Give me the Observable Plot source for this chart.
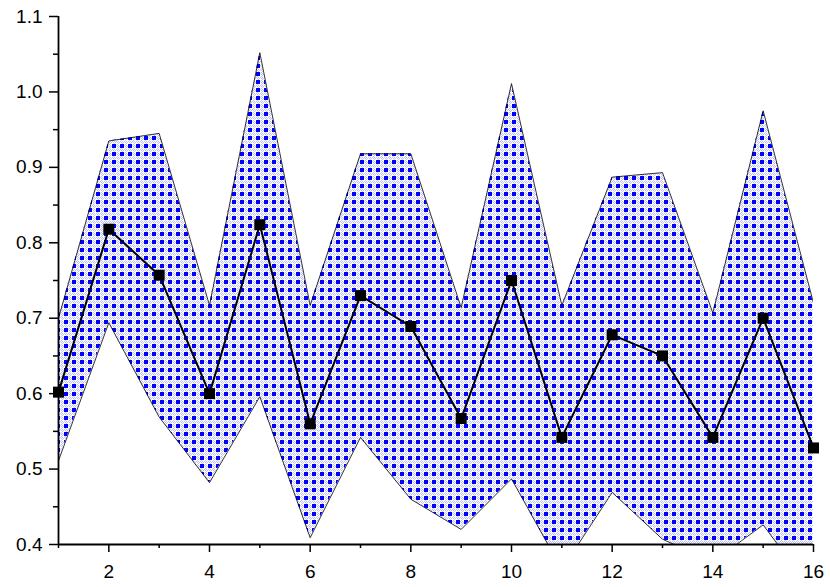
<!DOCTYPE html>
<html>
<head>
<meta charset="utf-8">
<script src="https://cdn.jsdelivr.net/npm/d3@7"></script>
<script src="https://cdn.jsdelivr.net/npm/@observablehq/plot@0.6"></script>
<style>
  html, body { margin: 0; padding: 0; background: #fff; }
  svg { font-family: "Liberation Sans", Arial, sans-serif; }
</style>
</head>
<body>
<div id="chart"></div>
<script>
const xs = [1, 2, 3, 4, 5, 6, 7, 8, 9, 10, 11, 12, 13, 14, 15, 16];
const mean = [0.602, 0.818, 0.757, 0.600, 0.824, 0.560, 0.730, 0.689, 0.567, 0.750, 0.542, 0.678, 0.650, 0.542, 0.700, 0.528];
const upper = [0.700, 0.935, 0.945, 0.717, 1.052, 0.717, 0.918, 0.918, 0.714, 1.011, 0.717, 0.887, 0.893, 0.707, 0.975, 0.720];
const lower = [0.511, 0.694, 0.569, 0.482, 0.596, 0.409, 0.542, 0.460, 0.420, 0.487, 0.367, 0.469, 0.407, 0.377, 0.426, 0.336];
const yMajor = [0.4, 0.5, 0.6, 0.7, 0.8, 0.9, 1.0, 1.1];
const yMinor = [0.45, 0.55, 0.65, 0.75, 0.85, 0.95, 1.05];
const xMajor = [2, 4, 6, 8, 10, 12, 14, 16];
const xMinor = [1, 3, 5, 7, 9, 11, 13, 15];

const data = xs.map((x, i) => ({x, y: mean[i], hi: upper[i], lo: lower[i]}));

const chart = Plot.plot({
  width: 830,
  height: 587,
  marginLeft: 58,
  marginRight: 17,
  marginTop: 16,
  marginBottom: 43,
  style: {fontSize: "19px", fontFamily: "Liberation Sans, Arial, sans-serif", color: "#000"},
  x: {domain: [1, 16], label: null},
  y: {domain: [0.4, 1.1], label: null},
  marks: [
    Plot.areaY(data, {x: "x", y1: "lo", y2: "hi", fill: "url(#chk)", clip: true}),
    Plot.line(data, {x: "x", y: "hi", stroke: "#000", strokeWidth: 0.8, clip: true}),
    Plot.line(data, {x: "x", y: "lo", stroke: "#000", strokeWidth: 0.8, clip: true}),
    Plot.line(data, {x: "x", y: "y", stroke: "#000", strokeWidth: 2}),
    Plot.dot(data, {x: "x", y: "y", symbol: "square", r: 6.2, fill: "#000", stroke: "none"}),
    Plot.axisY({ticks: yMinor, tickSize: 5, text: null, label: null, strokeWidth: 1.5}),
    Plot.axisY({ticks: yMajor, tickSize: 9, tickPadding: 7, tickFormat: d3.format(".1f"), label: null, strokeWidth: 1.5, fontSize: 19}),
    Plot.axisX({ticks: xMinor, tickSize: 4, text: null, label: null, strokeWidth: 1.5}),
    Plot.axisX({ticks: xMajor, tickSize: 8, tickPadding: 12, label: null, strokeWidth: 1.5, fontSize: 19}),
    Plot.ruleX([1], {stroke: "#000", strokeWidth: 1.8}),
    Plot.ruleY([0.4], {stroke: "#000", strokeWidth: 1.8})
  ]
});

const svg = d3.select(chart);
const defs = svg.insert("defs", ":first-child");
const pat = defs.append("pattern")
  .attr("id", "chk")
  .attr("patternUnits", "userSpaceOnUse")
  .attr("width", 8).attr("height", 8);
// align pattern to pixel grid if the area is offset by half a pixel
let tx = 0, ty = 0;
svg.selectAll("path").each(function() {
  const f = this.getAttribute("fill") || (this.parentNode && this.parentNode.getAttribute("fill"));
  if (f === "url(#chk)") {
    let n = this;
    while (n && n !== chart) {
      const t = n.getAttribute && n.getAttribute("transform");
      if (t) {
        const m = /translate\(\s*([-\d.]+)[ ,]+([-\d.]+)/.exec(t);
        if (m) { tx += +m[1]; ty += +m[2]; }
      }
      n = n.parentNode;
    }
  }
});
tx = tx - Math.floor(tx); ty = ty - Math.floor(ty);
if (tx || ty) pat.attr("patternTransform", `translate(${-tx},${-ty})`);

pat.append("rect").attr("width", 8).attr("height", 8).attr("fill", "#ffffff");
const light = "#c0c0fa";
// light "#"-like dots in the three non-blue 4x4 cells
for (const [cx, cy] of [[4, 0], [0, 4], [4, 4]]) {
  for (const [px, py] of [[1, 0], [0, 1], [2, 1], [1, 2], [3, 2], [2, 3]]) {
    pat.append("rect").attr("x", cx + px).attr("y", cy + py).attr("width", 1).attr("height", 1).attr("fill", light);
  }
}
pat.append("rect").attr("x", 0).attr("y", 0).attr("width", 4).attr("height", 4).attr("fill", "#0000ff");

document.getElementById("chart").appendChild(chart);
</script>
</body>
</html>
